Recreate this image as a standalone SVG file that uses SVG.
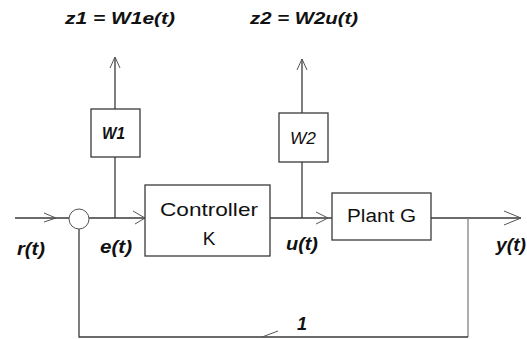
<svg xmlns="http://www.w3.org/2000/svg" width="527" height="339" viewBox="0 0 527 339">
<style>
.ln{stroke:#3a3a3a;stroke-width:1.3;fill:none}
.lt{stroke:#777;stroke-width:1.2;fill:none}
.box{fill:#fff;stroke:#3a3a3a;stroke-width:1.3}
.ah{stroke:#555;stroke-width:1;fill:none}
.lab{font-family:"Liberation Sans",Arial,sans-serif;font-style:italic;font-weight:bold;fill:#111}
.bt{font-family:"Liberation Sans",Arial,sans-serif;fill:#111}
</style>
<rect width="527" height="339" fill="#fff"/>
<g id="connectors">
<line class="ln" x1="15" y1="218" x2="69" y2="218"/>
<polyline class="ah" points="44,213 56,218 44,222"/>
<line class="ln" x1="89" y1="218" x2="145" y2="218"/>
<polyline class="ah" points="133,211 145,218 135,224"/>
<line class="ln" x1="115" y1="218" x2="115" y2="157"/>
<line class="ln" x1="115" y1="109" x2="115" y2="57"/>
<polyline class="ah" points="110,68 115,57 120,68"/>
<line class="ln" x1="270" y1="218" x2="332" y2="218"/>
<polyline class="ah" points="316,212 328,218 316,224"/>
<line class="ln" x1="302" y1="218" x2="302" y2="162"/>
<line class="ln" x1="302" y1="113" x2="302" y2="59"/>
<polyline class="ah" points="297,70 302,59 307,70"/>
<line class="ln" x1="431" y1="218" x2="521" y2="218"/>
<polyline class="ah" points="504,211 521,218 504,225"/>
<polyline class="lt" points="468,218 468,337"/>
<polyline class="ln" points="468,337 79,337 79,229"/>
<line class="ah" x1="262" y1="337" x2="278" y2="331"/>
</g>
<g id="sum"><circle cx="79" cy="219" r="10" fill="#fff" stroke="#555" stroke-width="1"/></g>
<g id="w1"><rect class="box" x="91" y="109" width="49" height="48"/><text class="lab" x="102" y="139" font-size="16" textLength="23" lengthAdjust="spacingAndGlyphs">W1</text></g>
<g id="w2"><rect class="box" x="279" y="113" width="49" height="49"/><text class="bt" x="290" y="144" font-size="16" font-style="italic" textLength="26" lengthAdjust="spacingAndGlyphs">W2</text></g>
<g id="controller"><rect class="box" x="145" y="185" width="125" height="71"/>
<text class="bt" x="160" y="216" font-size="19" textLength="98" lengthAdjust="spacingAndGlyphs">Controller</text>
<text class="bt" x="209" y="245" font-size="19" text-anchor="middle">K</text></g>
<g id="plant"><rect class="box" x="332" y="193" width="99" height="47"/>
<text class="bt" x="347" y="222" font-size="18" textLength="69" lengthAdjust="spacingAndGlyphs">Plant G</text></g>
<g id="labels">
<text class="lab" x="65" y="24" font-size="17" textLength="110" lengthAdjust="spacingAndGlyphs">z1 = W1e(t)</text>
<text class="lab" x="250" y="24" font-size="17" textLength="108" lengthAdjust="spacingAndGlyphs">z2 = W2u(t)</text>
<text class="lab" x="17" y="255" font-size="18" textLength="28" lengthAdjust="spacingAndGlyphs">r(t)</text>
<text class="lab" x="100" y="253" font-size="18" textLength="32" lengthAdjust="spacingAndGlyphs">e(t)</text>
<text class="lab" x="286" y="250" font-size="18" textLength="32" lengthAdjust="spacingAndGlyphs">u(t)</text>
<text class="lab" x="496" y="251" font-size="18" textLength="30" lengthAdjust="spacingAndGlyphs">y(t)</text>
<text class="lab" x="297" y="330" font-size="18">1</text>
</g>
</svg>
